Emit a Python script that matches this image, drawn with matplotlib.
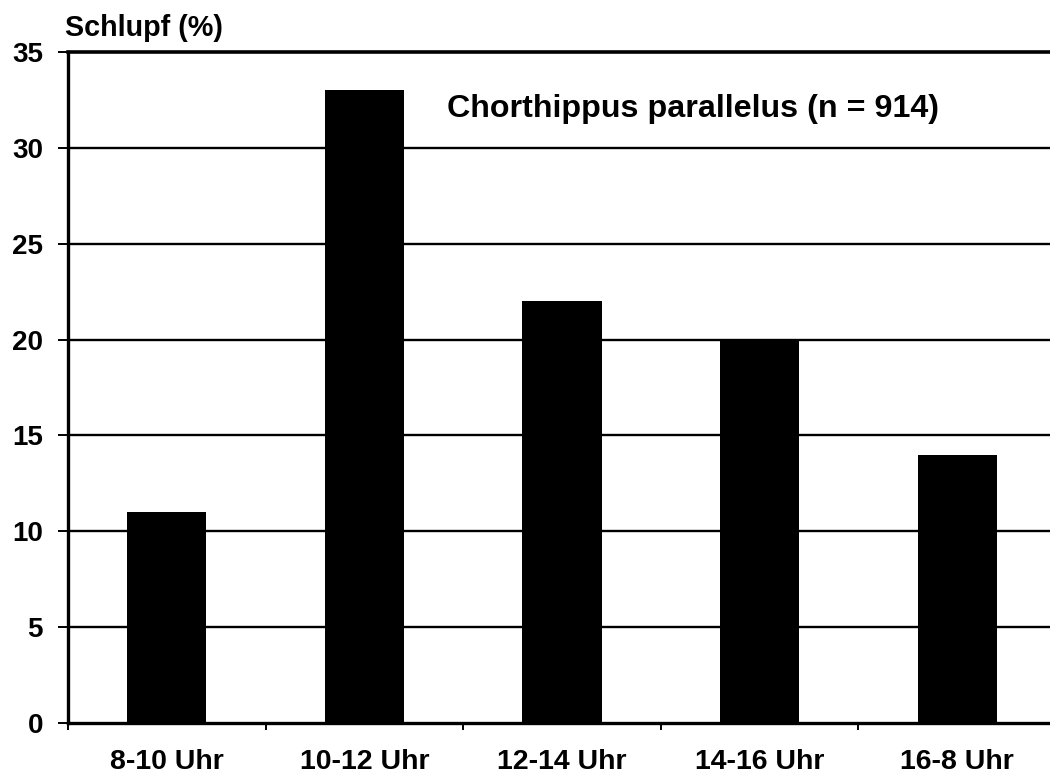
import matplotlib
matplotlib.use("Agg")
import matplotlib.pyplot as plt
import numpy as np

categories = ["8-10 Uhr", "10-12 Uhr", "12-14 Uhr", "14-16 Uhr", "16-8 Uhr"]
values = [11, 33, 22, 20, 14]
yticks = [0, 5, 10, 15, 20, 25, 30, 35]
title = "Chorthippus parallelus (n = 914)"
ylabel = "Schlupf (%)"

plt.rcParams['font.family'] = ['Liberation Sans', 'DejaVu Sans']
plt.rcParams['font.weight'] = 'bold'

fig = plt.figure(figsize=(10.5, 7.76), dpi=100)
W, H = 1050, 776
left, right, top, bottom = 68, 1056, 52, 723
ax = fig.add_axes([left / W, 1 - bottom / H, (right - left) / W, (bottom - top) / H])

x = np.arange(len(categories))
ax.set_xlim(-0.5, len(categories) - 0.5)
ax.set_ylim(0, 35)

for yv in yticks[1:-1]:
    ax.axhline(yv, color='black', linewidth=1.7, zorder=1)
ax.axhline(35, color='black', linewidth=2.6, zorder=1, clip_on=False)

ax.bar(x, values, width=0.4, color='black', edgecolor='none', zorder=2)

for s in ['top', 'right']:
    ax.spines[s].set_visible(False)
for s in ['left', 'bottom']:
    ax.spines[s].set_linewidth(2.4)
    ax.spines[s].set_color('black')

ax.set_yticks(yticks)
ax.set_yticklabels([str(v) for v in yticks], fontsize=20, fontweight='bold')
ax.tick_params(axis='y', length=7, width=1.4, pad=11)

ax.set_xticks(np.arange(len(categories) + 1) - 0.5)
ax.set_xticklabels([])
ax.tick_params(axis='x', which='major', length=5, width=1.4, direction='out')
ax.set_xticks(x, minor=True)
ax.set_xticklabels(categories, minor=True, fontsize=20.5, fontweight='bold')
ax.tick_params(axis='x', which='minor', length=0, pad=19)

ax.text(1.418, 32.03, title, fontsize=23.2, fontweight='bold', ha='left', va='center')
fig.text(65 / W, 1 - 28 / H, ylabel, fontsize=20.7, fontweight='bold', ha='left', va='center')

fig.savefig("out.png", dpi=100)
